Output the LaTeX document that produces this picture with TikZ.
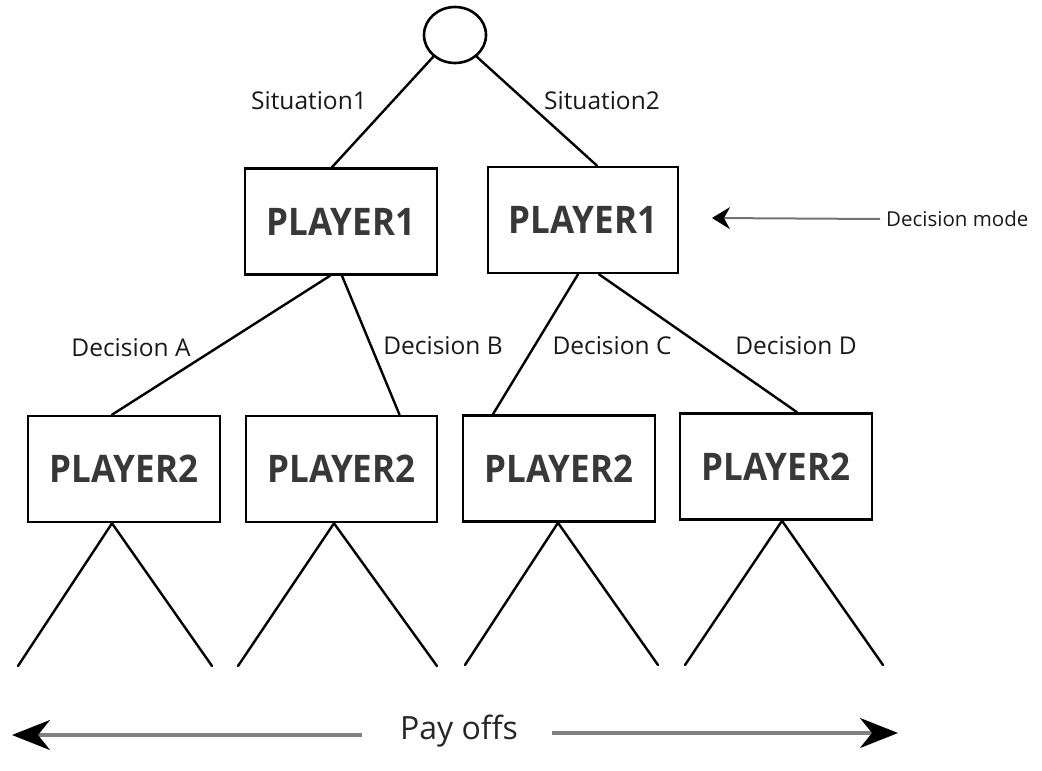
\documentclass[tikz,border=0pt]{standalone}
\usepackage{fontspec}
\setmainfont{Open Sans}
\usetikzlibrary{arrows.meta,shapes.geometric}
\begin{document}
\begin{tikzpicture}[x=1pt,y=-1pt,
  box/.style={draw,line width=2.6pt,minimum width=#1,minimum height=106pt,inner sep=0pt},
  edge/.style={line width=2.4pt,line cap=round},
  lbl/.style={font=\fontsize{24.5}{28}\selectfont,text=black!90},
  ptext/.style={font=\fontsize{38}{44}\selectfont\bfseries,text=black!78},
  grayarrow/.style={draw=black!50,line width=3.5pt},
]
\useasboundingbox (0,0) rectangle (1042,771);
% root
\node[draw,ellipse,line width=2.6pt,minimum width=62pt,minimum height=56pt,inner sep=0pt] (root) at (455,35) {};
% player 1 boxes
\node[box=192pt] (p1a) at (341,221.5) {};
\node[box=190pt] (p1b) at (583,220) {};
% player 2 boxes
\node[box=192pt] (b1) at (124,469) {};
\node[box=191pt] (b2) at (341.5,469) {};
\node[box=192pt] (b3) at (559,468.5) {};
\node[box=192pt] (b4) at (776,466.5) {};
% box texts
\foreach \n/\t in {p1a/PLAYER1,p1b/PLAYER1,b1/PLAYER2,b2/PLAYER2,b3/PLAYER2,b4/PLAYER2}{
  \node[ptext,xscale=0.92] (\n t) at (\n.center) {\t};
}
% edges root -> player1
\draw[edge] (root.225) -- ([xshift=-9pt]p1a.north);
\draw[edge] (root.315) -- ([xshift=14pt]p1b.north);
% player1 -> player2
\draw[edge] ([xshift=-11pt]p1a.south) -- ([xshift=-12pt]b1.north);
\draw[edge] ([xshift=1pt]p1a.south) -- ([xshift=58pt]b2.north);
\draw[edge] ([xshift=-5pt]p1b.south) -- ([xshift=-66pt]b3.north);
\draw[edge] ([xshift=16pt]p1b.south) -- ([xshift=21pt]b4.north);
% leaves
\coordinate (l1) at (18,666); \coordinate (l2) at (212,666);
\coordinate (l3) at (238,666); \coordinate (l4) at (437,666);
\coordinate (l5) at (465,665); \coordinate (l6) at (658,665);
\coordinate (l7) at (685,665); \coordinate (l8) at (883,665);
\draw[edge] (l1) -- ([xshift=-12pt]b1.south) -- (l2);
\draw[edge] (l3) -- ([xshift=-7.5pt]b2.south) -- (l4);
\draw[edge] (l5) -- ([xshift=-1pt]b3.south) -- (l6);
\draw[edge] (l7) -- ([xshift=6pt]b4.south) -- (l8);
% labels
\node[lbl] (s1) at (309,101) {Situation1};
\node[lbl] (s2) at (602,101) {Situation2};
\node[lbl] (da) at (131,348) {Decision A};
\node[lbl] (db) at (443,346) {Decision B};
\node[lbl] (dc) at (612,346) {Decision C};
\node[lbl] (dd) at (796,346) {Decision D};
% decision mode
\node[lbl,font=\fontsize{20.5}{24}\selectfont,anchor=west,inner sep=0pt] (dm) at (886,219) {Decision mode};
\coordinate (dmtip) at (712,218);
\draw[draw=black!55,line width=2pt,-{Stealth[length=18pt,width=22pt,inset=6pt,color=black]}] ([xshift=-6pt]dm.west) -- (dmtip);
% pay offs
\node[font=\fontsize{32}{38}\selectfont,text=black!85,inner sep=0pt] (pay) at (459,731) {Pay offs};
\coordinate (ltip) at (12,735);
\coordinate (rtip) at (898,733);
\draw[grayarrow,-{Stealth[length=38pt,width=30pt,inset=12pt,color=black]}] ([xshift=-38pt,yshift=-4pt]pay.west) -- (ltip);
\draw[grayarrow,-{Stealth[length=38pt,width=30pt,inset=12pt,color=black]}] ([xshift=34pt,yshift=-2pt]pay.east) -- (rtip);
\end{tikzpicture}
\end{document}
